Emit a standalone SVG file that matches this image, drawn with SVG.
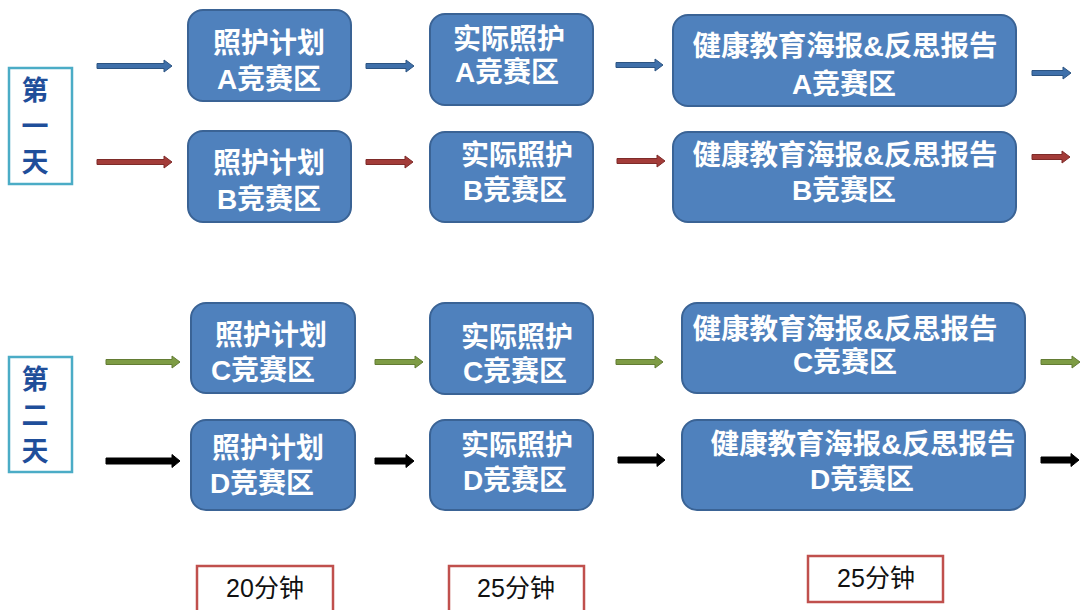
<svg xmlns="http://www.w3.org/2000/svg" width="1081" height="610" viewBox="0 0 1081 610">
<style>
.node{fill:#4F81BD;stroke:#3A6395;stroke-width:2}
.nt{fill:#fff;font-family:"Liberation Sans","Noto Sans CJK SC",sans-serif;font-weight:bold;font-size:28px;text-anchor:middle}
.wide{font-size:28.5px}
.day{fill:#fff;stroke:#4BACC6;stroke-width:2.5}
.dt{fill:#1F4E9A;font-family:"Noto Sans CJK SC",sans-serif;font-weight:bold;font-size:27px;text-anchor:middle}
.tb{fill:#fff;stroke:#C0504D;stroke-width:2.5}
.tt{fill:#111;font-family:"Liberation Sans","Noto Sans CJK SC",sans-serif;font-size:25px;text-anchor:middle}
.ab{fill:#3F70AA;stroke:#2C5482;stroke-width:1}
.ar{fill:#A33C39;stroke:#7E2B29;stroke-width:1}
.ag{fill:#7E9C45;stroke:#637C34;stroke-width:1}
.ak{fill:#000;stroke:#000;stroke-width:1}
</style>
<rect width="1081" height="610" fill="#fff"/>
<g id="day1"><rect class="day" x="9" y="68" width="63" height="116"/><text class="dt" x="35" y="100">第</text><text class="dt" x="35" y="136">一</text><text class="dt" x="35" y="172">天</text></g>
<g id="day2"><rect class="day" x="9" y="357" width="63" height="115"/><text class="dt" x="35" y="389">第</text><text class="dt" x="35" y="425">二</text><text class="dt" x="35" y="461">天</text></g>

<g id="A1"><rect class="node" x="188" y="10" width="163" height="91" rx="15"/><text class="nt" x="269" y="53">照护计划</text><text class="nt" x="269" y="89">A竞赛区</text></g>
<g id="A2"><rect class="node" x="430" y="14" width="163" height="91" rx="15"/><text class="nt" x="509" y="49">实际照护</text><text class="nt" x="507" y="82">A竞赛区</text></g>
<g id="A3"><rect class="node" x="673" y="15" width="343" height="91" rx="15"/><text class="nt wide" x="845" y="56" textLength="305">健康教育海报&amp;反思报告</text><text class="nt" x="844" y="94">A竞赛区</text></g>

<g id="B1"><rect class="node" x="188" y="131" width="163" height="91" rx="15"/><text class="nt" x="269" y="173">照护计划</text><text class="nt" x="269" y="209">B竞赛区</text></g>
<g id="B2"><rect class="node" x="430" y="132" width="163" height="90" rx="15"/><text class="nt" x="517" y="165">实际照护</text><text class="nt" x="515" y="200">B竞赛区</text></g>
<g id="B3"><rect class="node" x="673" y="132" width="343" height="90" rx="15"/><text class="nt wide" x="845" y="165" textLength="305">健康教育海报&amp;反思报告</text><text class="nt" x="844" y="200">B竞赛区</text></g>

<g id="C1"><rect class="node" x="191" y="303" width="164" height="90" rx="15"/><text class="nt" x="271" y="345">照护计划</text><text class="nt" x="263" y="380">C竞赛区</text></g>
<g id="C2"><rect class="node" x="430" y="303" width="163" height="91" rx="15"/><text class="nt" x="517" y="347">实际照护</text><text class="nt" x="515" y="381">C竞赛区</text></g>
<g id="C3"><rect class="node" x="682" y="303" width="343" height="90" rx="15"/><text class="nt wide" x="845" y="339" textLength="305">健康教育海报&amp;反思报告</text><text class="nt" x="845" y="372">C竞赛区</text></g>

<g id="D1"><rect class="node" x="191" y="420" width="164" height="90" rx="15"/><text class="nt" x="268" y="458">照护计划</text><text class="nt" x="262" y="493">D竞赛区</text></g>
<g id="D2"><rect class="node" x="430" y="420" width="163" height="90" rx="15"/><text class="nt" x="517" y="455">实际照护</text><text class="nt" x="515" y="490">D竞赛区</text></g>
<g id="D3"><rect class="node" x="682" y="420" width="343" height="90" rx="15"/><text class="nt wide" x="863" y="454" textLength="305">健康教育海报&amp;反思报告</text><text class="nt" x="862" y="489">D竞赛区</text></g>

<g id="t1"><rect class="tb" x="197" y="566" width="136" height="50"/><text class="tt" x="265" y="597">20分钟</text></g>
<g id="t2"><rect class="tb" x="449" y="566" width="135" height="50"/><text class="tt" x="516" y="597">25分钟</text></g>
<g id="t3"><rect class="tb" x="808" y="556" width="135" height="46"/><text class="tt" x="876" y="587">25分钟</text></g>

<g id="connectors">
<path class="ab" d="M97,63.5H164V60L172,66L164,72V68.5H97Z"/>
<path class="ab" d="M366,63.5H406V60L414,66L406,72V68.5H366Z"/>
<path class="ab" d="M616,62.5H655V59L663,65L655,71V67.5H616Z"/>
<path class="ab" d="M1032,70.5H1063V67L1071,73L1063,79V75.5H1032Z"/>

<path class="ar" d="M97,159.5H164V156L172,162L164,168V164.5H97Z"/>
<path class="ar" d="M366,159.5H405V156L413,162L405,168V164.5H366Z"/>
<path class="ar" d="M617,158.5H657V155L665,161L657,167V163.5H617Z"/>
<path class="ar" d="M1032,154.5H1062V151L1070,157L1062,163V159.5H1032Z"/>

<path class="ag" d="M106,359.5H172V356L180,362L172,368V364.5H106Z"/>
<path class="ag" d="M375,359.5H415V356L423,362L415,368V364.5H375Z"/>
<path class="ag" d="M616,359.5H655V356L663,362L655,368V364.5H616Z"/>
<path class="ag" d="M1041,359.5H1072V356L1080,362L1072,368V364.5H1041Z"/>

<path class="ak" d="M106,458H172V454.5L180,461L172,467.5V464H106Z"/>
<path class="ak" d="M375,458H406V454.5L414,461L406,467.5V464H375Z"/>
<path class="ak" d="M618,457H657V453.5L665,460L657,466.5V463H618Z"/>
<path class="ak" d="M1041,457H1071V453.5L1079,460L1071,466.5V463H1041Z"/>
</g>
</svg>
